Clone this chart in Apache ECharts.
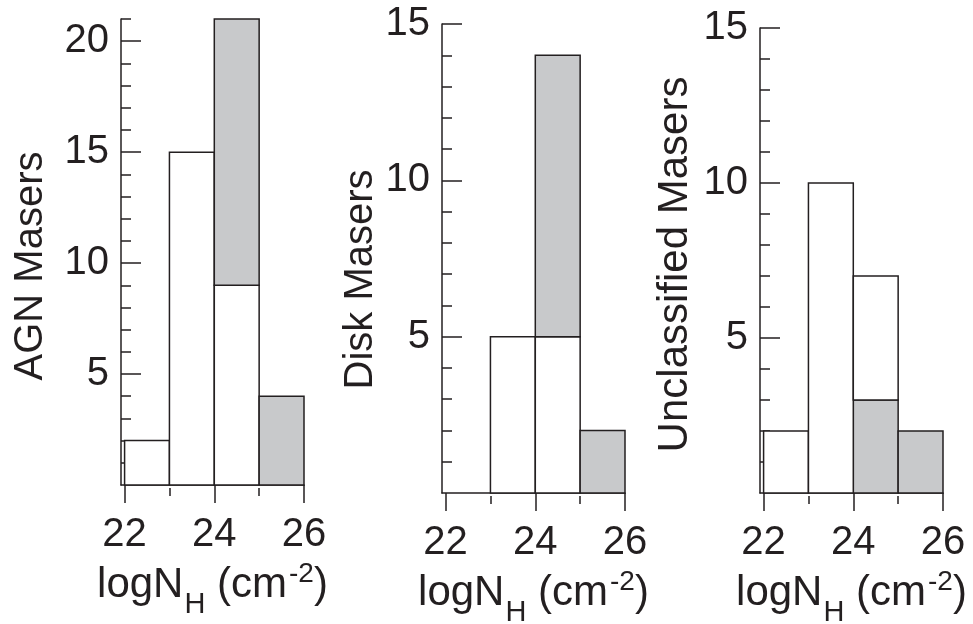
<!DOCTYPE html>
<html>
<head>
<meta charset="utf-8">
<script src="https://cdn.jsdelivr.net/npm/echarts@6/dist/echarts.min.js"></script>
<style>
  html, body { margin: 0; padding: 0; background: #fff; }
  #main { width: 973px; height: 624px; }
</style>
</head>
<body>
<div id="main"></div>
<script>
// bin edges of logN_H (cm^-2)
const binEdges = [22, 23, 24, 25, 26]

// counts per bin (white = open part, gray = shaded part)
const agnWhite = [2, 15, 9, 0]
const agnGray = [0, 0, 12, 4]
const diskWhite = [0, 5, 5, 0]
const diskGray = [0, 0, 9, 2]
const unclWhite = [2, 10, 4, 0]
const unclGray = [0, 0, 3, 2]

const yNames = ['AGN Masers', 'Disk Masers', 'Unclassified Masers']
const yMax = [21, 15, 15]
const yMajor = [[5, 10, 15, 20], [5, 10, 15], [5, 10, 15]]
const yMinor = [
    [1, 2, 3, 4, 6, 7, 8, 9, 11, 12, 13, 14, 16, 17, 18, 19, 21],
    [1, 2, 3, 4, 6, 7, 8, 9, 11, 12, 13, 14],
    [1, 2, 3, 4, 6, 7, 8, 9, 11, 12, 13, 14]
]
const xMajor = [22, 24, 26]
const xMinor = [23, 25]
const xMin = 21.92

const ink = '#231f20'
const shade = '#c8c9cb'
const font = 'Liberation Sans, Arial, Helvetica, sans-serif'

// stacked rect items: [x0, x1, y0, y1]
function stackBins(lower, upper) {
    const low = [], up = []
    for (let i = 0; i < lower.length; i++) {
        if (lower[i] > 0) low.push([binEdges[i], binEdges[i + 1], 0, lower[i]])
        if (upper[i] > 0) up.push([binEdges[i], binEdges[i + 1], lower[i], lower[i] + upper[i]])
    }
    return [low, up]
}

const agn = stackBins(agnWhite, agnGray)
const disk = stackBins(diskWhite, diskGray)
const uncl = stackBins(unclGray, unclWhite)

// [data, fill] per panel
const panelBars = [
    [[agn[0], '#fff'], [agn[1], shade]],
    [[disk[0], '#fff'], [disk[1], shade]],
    [[uncl[0], shade], [uncl[1], '#fff']]
]

const grids = [
    { left: 121, top: 19, width: 183, height: 466 },
    { left: 442, top: 24, width: 183, height: 469 },
    { left: 760, top: 28, width: 183, height: 465 }
]
const yNamePad = [28, 42, 8]
const yNameGap = [70, 61, 64]
const yNameSize = [40, 40, 42]

function renderBin(fill) {
    return function (params, api) {
        const p0 = api.coord([api.value(0), api.value(2)])
        const p1 = api.coord([api.value(1), api.value(3)])
        return {
            type: 'rect',
            shape: { x: p0[0], y: p1[1], width: p1[0] - p0[0], height: p0[1] - p1[1] },
            style: { fill: fill, stroke: ink, lineWidth: 1.5 }
        }
    }
}

const xAxes = [], yAxes = [], series = []
grids.forEach(function (g, i) {
    // base line
    xAxes.push({
        type: 'value', gridIndex: i, position: 'bottom', min: xMin, max: 26,
        axisLine: { show: true, lineStyle: { color: ink, width: 1.5 } },
        axisTick: { show: false }, axisLabel: { show: false }, splitLine: { show: false }
    })
    // major ticks + labels, detached a bit below the line
    xAxes.push({
        type: 'value', gridIndex: i, position: 'bottom', offset: 3, min: xMin, max: 26,
        axisLine: { show: false },
        axisTick: { show: true, length: 18, customValues: xMajor, lineStyle: { color: ink, width: 1.5 } },
        axisLabel: { show: true, customValues: xMajor, color: ink, fontSize: 40, fontFamily: font, margin: 27 },
        splitLine: { show: false },
        name: '{a|logN}{b|H}{a| (cm}{c|-2}{a|)}',
        nameLocation: 'middle',
        nameGap: 64,
        nameTextStyle: {
            rich: {
                a: { fontSize: 42, fontFamily: font, color: ink },
                b: { fontSize: 29, fontFamily: font, color: ink, padding: [38, 0, 0, 1] },
                c: { fontSize: 28, fontFamily: font, color: ink, padding: [0, 0, 24, 2] }
            }
        }
    })
    // minor ticks
    xAxes.push({
        type: 'value', gridIndex: i, position: 'bottom', offset: 3, min: xMin, max: 26,
        axisLine: { show: false },
        axisTick: { show: true, length: 8, customValues: xMinor, lineStyle: { color: ink, width: 1.5 } },
        axisLabel: { show: false }, splitLine: { show: false }
    })

    yAxes.push({
        type: 'value', gridIndex: i, position: 'left', min: 0, max: yMax[i],
        axisLine: { show: true, lineStyle: { color: ink, width: 1.5 } },
        axisTick: { show: true, inside: true, length: 20, customValues: yMajor[i], lineStyle: { color: ink, width: 1.5 } },
        axisLabel: { show: true, customValues: yMajor[i], color: ink, fontSize: 40, fontFamily: font, margin: 12 },
        splitLine: { show: false },
        name: yNames[i],
        nameLocation: 'middle',
        nameGap: yNameGap[i],
        nameTextStyle: { fontSize: yNameSize[i], fontFamily: font, color: ink, padding: [0, yNamePad[i], 0, 0] }
    })
    yAxes.push({
        type: 'value', gridIndex: i, position: 'left', min: 0, max: yMax[i],
        axisLine: { show: false },
        axisTick: { show: true, inside: true, length: 10, customValues: yMinor[i], lineStyle: { color: ink, width: 1.5 } },
        axisLabel: { show: false }, splitLine: { show: false }
    })

    panelBars[i].forEach(function (b) {
        series.push({
            type: 'custom',
            xAxisIndex: i * 3,
            yAxisIndex: i * 2,
            renderItem: renderBin(b[1]),
            encode: { x: [0, 1], y: [2, 3] },
            data: b[0],
            silent: true
        })
    })
})

const myChart = echarts.init(document.getElementById('main'))
myChart.setOption({
    animation: false,
    backgroundColor: '#fff',
    grid: grids.map(function (g) { return Object.assign({ outerBoundsMode: 'none' }, g) }),
    xAxis: xAxes,
    yAxis: yAxes,
    series: series
})
</script>
</body>
</html>
